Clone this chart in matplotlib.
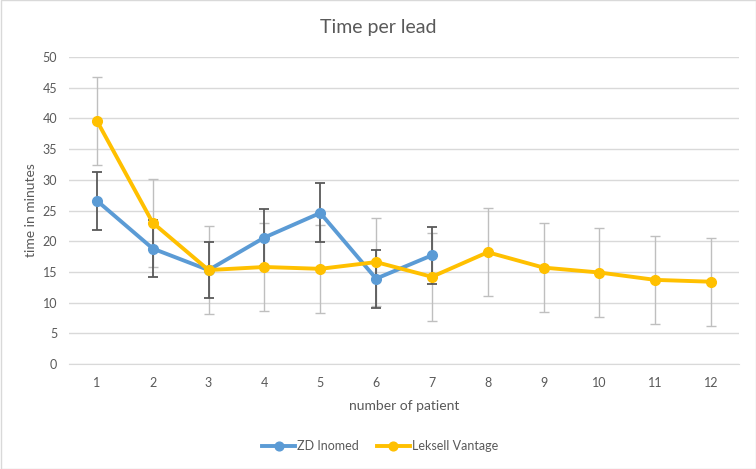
import matplotlib
matplotlib.use("Agg")
import matplotlib.pyplot as plt
from matplotlib.patches import Rectangle

plt.rcParams['font.family'] = ['Lato', 'DejaVu Sans']

patients = [1, 2, 3, 4, 5, 6, 7, 8, 9, 10, 11, 12]
zd_x = [1, 2, 3, 4, 5, 6, 7]
zd_inomed = [26.6, 18.8, 15.3, 20.6, 24.6, 13.9, 17.7]
zd_err = [4.7, 4.6, 4.6, 4.7, 4.8, 4.7, 4.6]
leksell = [39.6, 23.0, 15.3, 15.8, 15.5, 16.6, 14.2, 18.2, 15.7, 14.9, 13.7, 13.4]
leksell_err = [7.2] * 12
yticks = [0, 5, 10, 15, 20, 25, 30, 35, 40, 45, 50]

txt = '#595959'
grid = '#D9D9D9'

fig = plt.figure(figsize=(7.56, 4.69), dpi=100)
ax = fig.add_axes([69/756, 1-364/469, 670/756, 307/469])

ax.errorbar(patients, leksell, yerr=leksell_err, fmt='none', ecolor='#BFBFBF',
            elinewidth=1.0, capsize=3.5, capthick=1.0, zorder=2)
ax.errorbar(zd_x, zd_inomed, yerr=zd_err, fmt='none', ecolor='#595959',
            elinewidth=1.3, capsize=3.5, capthick=1.3, zorder=2)
ax.plot(zd_x, zd_inomed, color='#5B9BD5', lw=2.8, marker='o', ms=7,
        label='ZD Inomed', zorder=3, solid_joinstyle='round')
ax.plot(patients, leksell, color='#FFC000', lw=2.8, marker='o', ms=7,
        label='Leksell Vantage', zorder=4, solid_joinstyle='round')

ax.set_xlim(0.5, 12.5)
ax.set_ylim(0, 50)
ax.set_xticks(patients)
ax.set_yticks(yticks)
ax.yaxis.grid(True, color=grid, lw=1.0)
ax.set_axisbelow(True)
for s in ax.spines.values():
    s.set_visible(False)
ax.spines['bottom'].set_visible(True)
ax.spines['bottom'].set_color(grid)
ax.tick_params(axis='both', length=0, colors=txt, labelsize=9)
ax.tick_params(axis='x', pad=9)
ax.tick_params(axis='y', pad=8.5)

ax.set_xlabel('number of patient', color=txt, fontsize=10, labelpad=8)
ax.set_ylabel('time in minutes', color=txt, fontsize=10, labelpad=4)
fig.text(0.5, 1-27/469, 'Time per lead', ha='center', va='center',
         color=txt, fontsize=14)

leg = fig.legend(loc='center', bbox_to_anchor=(380/756, 1-446/469), ncol=2,
                 frameon=False, fontsize=9, handlelength=2.6,
                 columnspacing=1.5, handletextpad=0.15, markerscale=0.9)
for t in leg.get_texts():
    t.set_color(txt)

fig.patches.append(Rectangle((0.5/756, 0.5/469), 1-1/756, 1-1/469,
                             transform=fig.transFigure, fill=False,
                             edgecolor='#D9D9D9', lw=1.0))

fig.savefig('out.png', dpi=100)
